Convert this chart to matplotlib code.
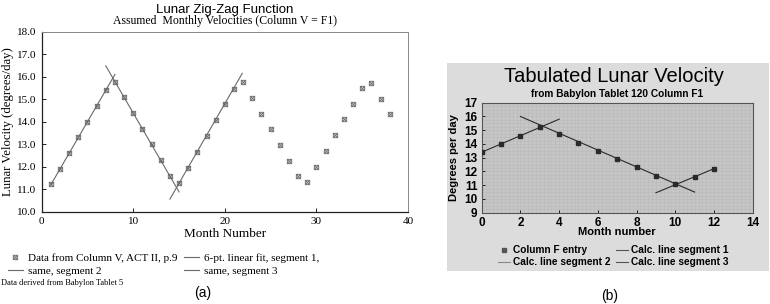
import matplotlib
matplotlib.use("Agg")
import matplotlib.pyplot as plt
import numpy as np
from matplotlib.lines import Line2D
from matplotlib.patches import Rectangle
from matplotlib.ticker import MultipleLocator, FormatStrFormatter

# ---------------- data: panel (a) ----------------
months_a = list(range(1, 39))
velocity_a = [11.22, 11.90, 12.60, 13.33, 14.00, 14.70, 15.40, 15.78, 15.08, 14.39,
              13.67, 13.00, 12.30, 11.60, 11.29, 11.96, 12.67, 13.36, 14.07, 14.79,
              15.45, 15.75, 15.07, 14.36, 13.68, 12.96, 12.27, 11.59, 11.30, 12.00,
              12.70, 13.40, 14.10, 14.79, 15.50, 15.73, 15.02, 14.33]
fit1_x = [1.0, 8.0]
fit1_y = [11.2, 16.1]
fit2_x = [7.0, 15.0]
fit2_y = [16.48, 10.88]
fit3_x = [14.0, 21.9]
fit3_y = [10.56, 16.15]

# ---------------- data: panel (b) ----------------
months_b = list(range(0, 13))
velocity_b = [13.4, 14.0, 14.6, 15.2, 14.7, 14.1, 13.5, 12.9, 12.3, 11.7, 11.1, 11.6, 12.2]
calc1_x = [0.0, 4.0]
calc1_y = [13.4, 15.8]
calc2_x = [2.0, 11.0]
calc2_y = [16.0, 10.5]
calc3_x = [9.0, 12.0]
calc3_y = [10.45, 12.2]

serif = "Liberation Serif"
sans = "Liberation Sans"

fig = plt.figure(figsize=(7.7, 3.04), dpi=100)
fig.patch.set_facecolor("white")

# ================= panel (a) =================
axA = fig.add_axes([41.7/770, 1-211.7/304, (408-41.7)/770, (211.7-31.7)/304])
line_col = "#6a6a6a"
axA.plot(fit1_x, fit1_y, color=line_col, lw=0.8)
axA.plot(fit2_x, fit2_y, color=line_col, lw=0.8)
axA.plot(fit3_x, fit3_y, color=line_col, lw=0.8)
axA.plot(months_a, velocity_a, linestyle="none", marker="$\u22A0$", ms=3.6,
         color="#666666", mew=0.2)
axA.set_xlim(0, 40)
axA.set_ylim(10, 18)
axA.xaxis.set_major_locator(MultipleLocator(10))
axA.yaxis.set_major_locator(MultipleLocator(1))
axA.yaxis.set_major_formatter(FormatStrFormatter("%.1f"))
axA.tick_params(direction="in", length=3, width=0.6, labelsize=8, pad=4)
for lab in axA.get_xticklabels() + axA.get_yticklabels():
    lab.set_fontfamily(serif)
for s in ["left", "bottom"]:
    axA.spines[s].set_color("#222222")
    axA.spines[s].set_linewidth(0.9)
for s in ["top", "right"]:
    axA.spines[s].set_color("#888888")
    axA.spines[s].set_linewidth(0.7)
axA.set_xlabel("Month Number", fontfamily=serif, fontsize=9.5, labelpad=1)
axA.set_ylabel("Lunar Velocity (degrees/day)", fontfamily=serif, fontsize=9.2, labelpad=2)
fig.text(225/770, 1-10/304, "Lunar Zig-Zag Function", fontfamily=sans, fontsize=9.5,
         ha="center", va="center")
fig.text(225/770, 1-21/304, "Assumed  Monthly Velocities (Column V = F1)", fontfamily=serif,
         fontsize=8.5, ha="center", va="center")

hA = [Line2D([], [], linestyle="none", marker="$\u22A0$", ms=3.6, color="#666666", mew=0.2),
      Line2D([], [], color=line_col, lw=0.8),
      Line2D([], [], color=line_col, lw=0.8),
      Line2D([], [], color=line_col, lw=0.8)]
lA = ["Data from Column V, ACT II, p.9", "same, segment 2",
      "6-pt. linear fit, segment 1,", "same, segment 3"]
fig.legend(hA, lA, loc="upper left", bbox_to_anchor=(2/770, 1-248/304), ncol=2,
           frameon=False, prop={"family": serif, "size": 8}, handlelength=1.4,
           handletextpad=0.4, columnspacing=0.6, labelspacing=0.25, borderpad=0)
fig.text(1/770, 1-283/304, "Data derived from Babylon Tablet 5", fontfamily=serif,
         fontsize=6, ha="left", va="center")
fig.text(203/770, 1-293/304, "(a)", fontfamily=sans, fontsize=10, ha="center", va="center")

# ================= panel (b) =================
fig.add_artist(Rectangle((447/770, 1-271/304), (769-447)/770, (271-63.3)/304,
                         transform=fig.transFigure, facecolor="#dcdcdc",
                         edgecolor="none", zorder=0))
axB = fig.add_axes([481.7/770, 1-212.7/304, (752.7-481.7)/770, (212.7-102.7)/304])
axB.set_facecolor("#c6c6c6")
dark = "#2a2a2a"
axB.plot(calc1_x, calc1_y, color=dark, lw=0.8, zorder=3)
axB.plot(calc2_x, calc2_y, color=dark, lw=0.8, zorder=3)
axB.plot(calc3_x, calc3_y, color=dark, lw=0.8, zorder=3)
axB.plot(months_b, velocity_b, linestyle="none", marker="s", ms=2.6, color=dark, zorder=4)
axB.set_xlim(0, 14)
axB.set_ylim(9, 17)
axB.xaxis.set_major_locator(MultipleLocator(2))
axB.yaxis.set_major_locator(MultipleLocator(1))
axB.xaxis.set_minor_locator(MultipleLocator(0.2))
axB.yaxis.set_minor_locator(MultipleLocator(0.25))
axB.grid(which="both", color="#b9b9b9", lw=0.4)
axB.set_axisbelow(True)
axB.tick_params(which="minor", length=0)
axB.tick_params(which="major", direction="in", length=2.5, width=0.6, labelsize=8.5, pad=3)
for lab in axB.get_xticklabels() + axB.get_yticklabels():
    lab.set_fontweight("bold")
    lab.set_fontfamily(sans)
for s in axB.spines.values():
    s.set_color("#555555")
    s.set_linewidth(0.8)
axB.set_xlabel("Month number", fontfamily=sans, fontweight="bold", fontsize=8, labelpad=-1)
axB.set_ylabel("Degrees per day", fontfamily=sans, fontweight="bold", fontsize=8, labelpad=4)
fig.text(614/770, 1-77/304, "Tabulated Lunar Velocity", fontfamily=sans, fontsize=14.5,
         ha="center", va="center")
fig.text(617/770, 1-93.5/304, "from Babylon Tablet 120 Column F1", fontfamily=sans,
         fontweight="bold", fontsize=7.3, ha="center", va="center")

hB = [Line2D([], [], linestyle="none", marker="s", ms=2.4, color="#555555"),
      Line2D([], [], color="#888888", lw=0.8),
      Line2D([], [], color="#555555", lw=0.8),
      Line2D([], [], color="#555555", lw=0.8)]
lB = ["Column F entry", "Calc. line segment 2", "Calc. line segment 1", "Calc. line segment 3"]
fig.legend(hB, lB, loc="upper left", bbox_to_anchor=(493/770, 1-240/304), ncol=2,
           frameon=False, prop={"family": sans, "weight": "bold", "size": 7.3},
           handlelength=1.2, handletextpad=0.3, columnspacing=0.5, labelspacing=0.2,
           borderpad=0)
fig.text(610/770, 1-296/304, "(b)", fontfamily=sans, fontsize=10, ha="center", va="center")

fig.savefig("out.png", dpi=100, facecolor="white")
